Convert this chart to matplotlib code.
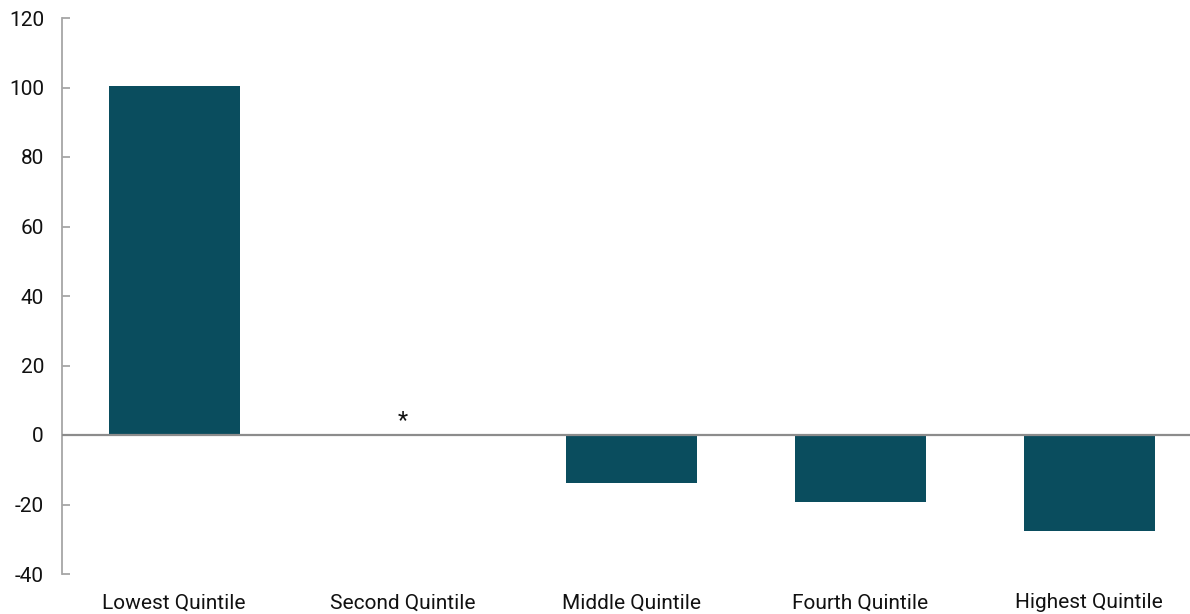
import matplotlib
matplotlib.use("Agg")
import matplotlib.pyplot as plt
from matplotlib import font_manager

# Pick a narrow sans face when available
available = {f.name for f in font_manager.fontManager.ttflist}
family = [f for f in ["Liberation Sans Narrow", "Roboto", "DejaVu Sans"] if f in available]
plt.rcParams["font.family"] = family

categories = ["Lowest Quintile", "Second Quintile", "Middle Quintile",
              "Fourth Quintile", "Highest Quintile"]
values = [100.3, 0.0, -13.7, -19.2, -27.5]
bar_labels = ["", "*", "", "", ""]
yticks = [-40, -20, 0, 20, 40, 60, 80, 100, 120]

bar_color = "#0a4d5e"
axis_grey = "#a6a6a6"

fig = plt.figure(figsize=(11.90, 6.14), dpi=100)
ax = fig.add_axes([62 / 1190, 40 / 614, 1 - 62 / 1190, 556 / 614])

x = list(range(len(categories)))
bars = ax.bar(x, values, width=0.573, color=bar_color, zorder=2)

# Marker for a value too small to show
for rect, lab, v in zip(bars, bar_labels, values):
    if lab:
        ax.annotate(lab, (rect.get_x() + rect.get_width() / 2, v),
                    xytext=(0, 2), textcoords="offset points",
                    ha="center", va="bottom", fontsize=17, color="#111111")

ax.axhline(0, color="#8c8c8c", linewidth=1.6, zorder=3)

ax.set_xlim(-0.49, 4.44)
ax.set_ylim(-40, 120)
ax.set_yticks(yticks)
ax.set_yticklabels([str(t) for t in yticks])
ax.set_xticks(x)
ax.set_xticklabels(categories)

for side in ["top", "right", "bottom"]:
    ax.spines[side].set_visible(False)
ax.spines["left"].set_color(axis_grey)
ax.spines["left"].set_linewidth(1.3)

ax.tick_params(axis="y", direction="in", length=5.5, width=1.3, color=axis_grey,
               labelsize=15, labelcolor="#111111", pad=13)
ax.tick_params(axis="x", length=0, labelsize=15, labelcolor="#111111", pad=14)

fig.savefig("out.png", dpi=100)
